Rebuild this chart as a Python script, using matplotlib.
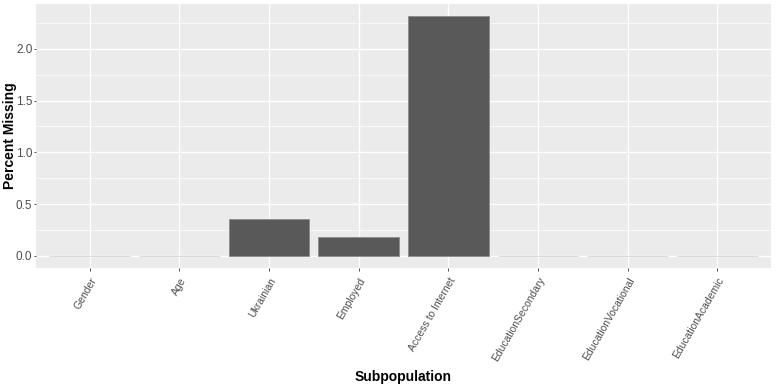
import matplotlib
matplotlib.use("Agg")
import matplotlib.pyplot as plt
import numpy as np

plt.rcParams['font.family'] = ['Liberation Sans', 'DejaVu Sans']

# datos
subpoblaciones = ["Gender", "Age", "Ukrainian", "Employed", "Access to Internet",
                  "EducationSecondary", "EducationVocational", "EducationAcademic"]
porcentaje = [0.0, 0.0, 0.355, 0.18, 2.32, 0.0, 0.0, 0.0]
yticks = [0.0, 0.5, 1.0, 1.5, 2.0]

fig = plt.figure(figsize=(7.75, 3.88), dpi=100)
ax = fig.add_axes([36 / 775, 1 - 268 / 388, (771 - 36) / 775, (268 - 3.5) / 388])
ax.set_facecolor("#EBEBEB")

x = np.arange(len(subpoblaciones))
bordes = ["#8F8F8F" if v > 0 else "#DADADA" for v in porcentaje]
ax.bar(x, porcentaje, width=0.9, color="#595959", edgecolor=bordes,
       linewidth=0.7, zorder=3)

ymax = max(porcentaje)
ax.set_xlim(-0.6, len(subpoblaciones) - 0.4)
ax.set_ylim(-0.05 * ymax, 1.05 * ymax)

ax.set_yticks(yticks)
ax.set_yticklabels(["%.1f" % v for v in yticks])
ax.set_yticks([0.25, 0.75, 1.25, 1.75, 2.25], minor=True)
ax.set_xticks(x)
ax.set_xticklabels(subpoblaciones, rotation=60, ha="right", rotation_mode="anchor",
                   fontsize=7.5, color="#4D4D4D")
ax.tick_params(axis="y", labelsize=8.5, labelcolor="#4D4D4D", pad=1, length=1.6)
ax.tick_params(axis="x", pad=3, length=2.5)
ax.tick_params(which="major", width=0.6, color="#333333")
ax.tick_params(which="minor", length=0)

ax.grid(which="major", color="white", linewidth=1.0, zorder=0)
ax.grid(which="minor", axis="y", color="white", linewidth=0.5, zorder=0)
ax.set_axisbelow(True)
for s in ax.spines.values():
    s.set_visible(False)

ax.set_xlabel("Subpopulation", fontsize=10, fontweight="bold", va="center")
ax.set_ylabel("Percent Missing", fontsize=10, fontweight="bold", va="center")
ax.xaxis.set_label_coords(0.5, (268 - 377) / 264.5)
ax.yaxis.set_label_coords((10 - 36) / 735, 0.5)

fig.savefig("out.png", dpi=100)
